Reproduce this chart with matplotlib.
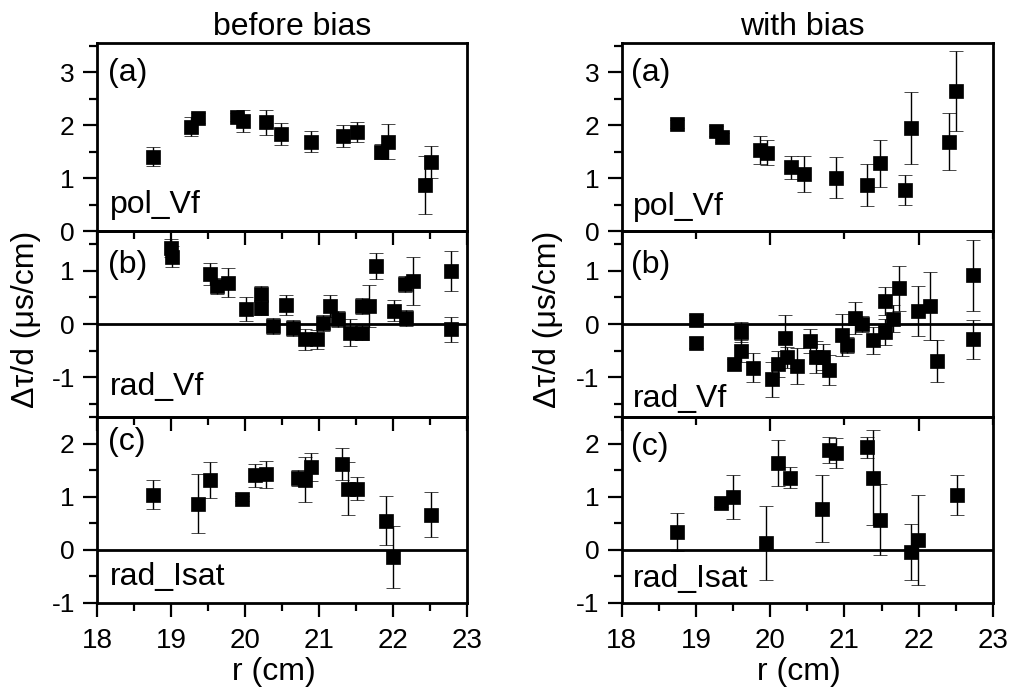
import matplotlib
matplotlib.use("Agg")
import matplotlib.pyplot as plt
from matplotlib.ticker import MultipleLocator

plt.rcParams['font.family'] = ['Liberation Sans', 'DejaVu Sans']
plt.rcParams['axes.unicode_minus'] = False

# ---------------- data: before bias ----------------
r_a_before = [18.76, 19.27, 19.37, 19.89, 19.97, 20.29, 20.48, 20.89, 21.33, 21.51, 21.84, 21.93, 22.43, 22.52]
v_a_before = [1.40, 1.97, 2.13, 2.15, 2.08, 2.05, 1.83, 1.69, 1.79, 1.87, 1.50, 1.69, 0.87, 1.31]
e_a_before = [0.18, 0.18, 0.10, 0.08, 0.21, 0.24, 0.20, 0.19, 0.21, 0.18, 0.14, 0.33, 0.55, 0.30]

r_b_before = [19.00, 19.02, 19.53, 19.62, 19.77, 20.02, 20.22, 20.22, 20.38, 20.55, 20.65, 20.81, 20.97, 21.06,
              21.15, 21.26, 21.42, 21.58, 21.58, 21.68, 21.77, 22.01, 22.16, 22.18, 22.27, 22.78, 22.78]
v_b_before = [1.43, 1.27, 0.94, 0.72, 0.78, 0.28, 0.56, 0.31, -0.04, 0.36, -0.07, -0.29, -0.29, 0.02,
              0.34, 0.09, -0.16, -0.16, 0.34, 0.34, 1.09, 0.25, 0.75, 0.12, 0.81, 1.00, -0.10]
e_b_before = [0.17, 0.20, 0.20, 0.15, 0.27, 0.22, 0.15, 0.15, 0.15, 0.19, 0.15, 0.20, 0.18, 0.15,
              0.20, 0.15, 0.25, 0.15, 0.15, 0.39, 0.25, 0.20, 0.15, 0.15, 0.45, 0.38, 0.23]

r_c_before = [18.76, 19.36, 19.53, 19.96, 20.14, 20.28, 20.72, 20.81, 20.89, 21.31, 21.39, 21.51, 21.91, 22.00, 22.52]
v_c_before = [1.04, 0.87, 1.31, 0.96, 1.40, 1.42, 1.35, 1.32, 1.56, 1.62, 1.15, 1.15, 0.55, -0.13, 0.66]
e_c_before = [0.27, 0.55, 0.34, 0.05, 0.22, 0.26, 0.15, 0.42, 0.26, 0.30, 0.50, 0.22, 0.46, 0.58, 0.42]

# ---------------- data: with bias ----------------
r_a_with = [18.74, 19.27, 19.35, 19.86, 19.95, 20.28, 20.46, 20.88, 21.30, 21.48, 21.81, 21.90, 22.41, 22.50]
v_a_with = [2.02, 1.89, 1.77, 1.53, 1.48, 1.20, 1.07, 1.01, 0.87, 1.28, 0.77, 1.94, 1.69, 2.64]
e_a_with = [0.08, 0.10, 0.08, 0.26, 0.24, 0.22, 0.34, 0.38, 0.39, 0.44, 0.28, 0.68, 0.54, 0.75]

r_b_with = [19.00, 19.00, 19.51, 19.60, 19.60, 19.77, 20.02, 20.11, 20.20, 20.22, 20.36, 20.53, 20.62, 20.71,
            20.79, 20.97, 21.04, 21.14, 21.23, 21.39, 21.55, 21.55, 21.65, 21.73, 21.99, 22.15, 22.24, 22.73, 22.73]
v_b_with = [0.07, -0.35, -0.76, -0.15, -0.51, -0.82, -1.04, -0.75, -0.27, -0.63, -0.79, -0.32, -0.62, -0.62,
            -0.86, -0.21, -0.40, 0.12, 0.00, -0.31, 0.43, -0.15, 0.10, 0.67, 0.25, 0.34, -0.70, 0.92, -0.29]
e_b_with = [0.10, 0.10, 0.10, 0.19, 0.20, 0.27, 0.33, 0.25, 0.43, 0.20, 0.33, 0.22, 0.30, 0.25,
            0.28, 0.40, 0.15, 0.30, 0.15, 0.25, 0.26, 0.25, 0.25, 0.42, 0.47, 0.64, 0.40, 0.67, 0.36]

r_c_with = [18.74, 19.34, 19.50, 19.94, 20.11, 20.27, 20.70, 20.79, 20.88, 21.30, 21.39, 21.48, 21.90, 21.99, 22.51]
v_c_with = [0.33, 0.88, 1.00, 0.13, 1.64, 1.36, 0.77, 1.88, 1.82, 1.93, 1.36, 0.57, -0.04, 0.19, 1.03]
e_c_with = [0.36, 0.08, 0.41, 0.70, 0.43, 0.20, 0.63, 0.24, 0.28, 0.20, 0.89, 0.67, 0.52, 0.85, 0.37]

panel_tags = ["(a)", "(b)", "(c)"]
panel_names = ["pol_Vf", "rad_Vf", "rad_Isat"]
column_titles = ["before bias", "with bias"]
x_label = "r (cm)"
y_label = "Δτ/d (μs/cm)"
ylims = [(0, 3.55), (-1.75, 1.75), (-1.0, 2.5)]

data = [
    [(r_a_before, v_a_before, e_a_before), (r_b_before, v_b_before, e_b_before), (r_c_before, v_c_before, e_c_before)],
    [(r_a_with, v_a_with, e_a_with), (r_b_with, v_b_with, e_b_with), (r_c_with, v_c_with, e_c_with)],
]

W, H = 1014, 695
fig = plt.figure(figsize=(W / 100, H / 100), dpi=100)

col_x = [(97, 467), (621.7, 993)]
row_y = [(43, 231), (231, 417), (417, 603)]

name_base = [[0.096, 0.118, 0.097], [0.085, 0.055, 0.088]]
tag_top = [[0.92, 0.90, 0.945], [0.92, 0.90, 0.92]]
name_x = [0.03, 0.025]

for c in range(2):
    x0, x1 = col_x[c]
    for rI in range(3):
        y0, y1 = row_y[rI]
        ax = fig.add_axes([x0 / W, 1 - y1 / H, (x1 - x0) / W, (y1 - y0) / H])
        ax.set_facecolor('none')
        rr, vv, ee = data[c][rI]
        ax.errorbar(rr, vv, yerr=ee, fmt='s', color='k', ms=10.5, mew=0.5,
                    ecolor='k', elinewidth=1.0, capsize=5, capthick=1.0, zorder=3)
        if rI > 0:
            ax.axhline(0, color='k', lw=2, zorder=2)
        ax.set_xlim(18, 23)
        ax.set_ylim(*ylims[rI])
        ax.yaxis.set_major_locator(MultipleLocator(1))
        ax.yaxis.set_minor_locator(MultipleLocator(0.5))
        if c == 1 and rI < 2:
            ax.xaxis.set_major_locator(MultipleLocator(2))
            ax.xaxis.set_minor_locator(MultipleLocator(1))
        else:
            ax.xaxis.set_major_locator(MultipleLocator(1))
            ax.xaxis.set_minor_locator(MultipleLocator(0.5))
        for s in ax.spines.values():
            s.set_linewidth(2)
        ax.tick_params(which='major', direction='out', length=10, width=1.6,
                       labelsize=19, top=False, right=False)
        ax.tick_params(which='minor', direction='out', length=6, width=1.6,
                       top=False, right=False)
        ax.tick_params(axis='x', which='major', labelsize=20, pad=8)
        ax.tick_params(axis='y', which='major', pad=6)
        if rI < 2:
            ax.tick_params(axis='x', labelbottom=False)
        ax.text(name_x[c], tag_top[c][rI], panel_tags[rI], transform=ax.transAxes,
                fontsize=23, ha='left', va='top')
        ax.text(name_x[c] + 0.005, name_base[c][rI], panel_names[rI], transform=ax.transAxes,
                fontsize=23, ha='left', va='baseline')

# column titles, axis labels
fig.text(292 / W, 1 - 35 / H, column_titles[0], fontsize=23, ha='center', va='baseline')
fig.text(802 / W, 1 - 35 / H, column_titles[1], fontsize=23, ha='center', va='baseline')
fig.text(274 / W, 1 - 680 / H, x_label, fontsize=23, ha='center', va='baseline')
fig.text(799 / W, 1 - 680 / H, x_label, fontsize=23, ha='center', va='baseline')
fig.text(26 / W, 1 - 319 / H, y_label, fontsize=23, rotation=90, ha='center', va='center')
fig.text(548 / W, 1 - 319 / H, y_label, fontsize=23, rotation=90, ha='center', va='center')

fig.savefig("out.png", dpi=100)
